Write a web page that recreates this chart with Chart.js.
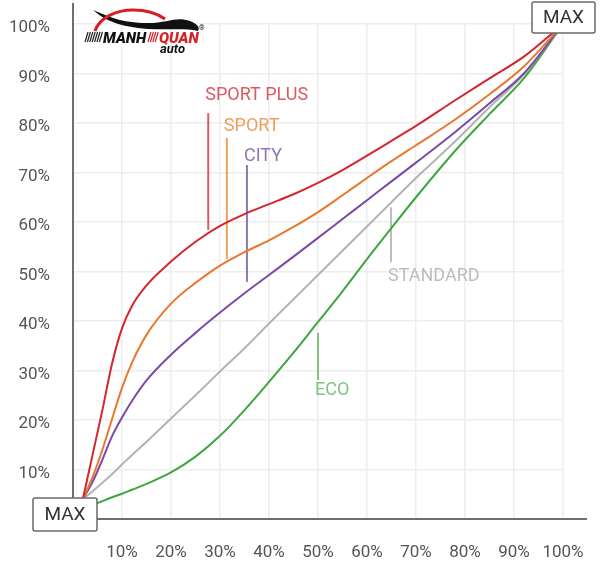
<!DOCTYPE html>
<html>
<head>
<meta charset="utf-8">
<script src="https://cdn.jsdelivr.net/npm/chart.js@4.4.1/dist/chart.umd.min.js"></script>
<style>
	html, body { margin: 0; padding: 0; background: #fff; }
	#wrap { width: 600px; height: 566px; }
</style>
</head>
<body>
<div id="wrap"><canvas id="pedal-chart" width="600" height="566"></canvas></div>
<script>
// pedal position (%), shared by every mode
var pedalX = [2, 4, 6, 8, 10, 12, 15, 20, 25, 30, 35, 40, 45, 50, 55, 60, 65, 70, 78, 85, 92, 100];

// throttle opening (%) for each mode
var sportPlusY = [4, 13, 22, 31.5, 38.5, 43, 47.2, 52, 56, 59.2, 61.6, 63.6, 65.6, 67.9, 70.5, 73.4, 76.4, 79.4, 84.6, 89, 93.4, 100];
var sportY     = [4, 8.5, 14, 20.3, 26.5, 31.5, 37.2, 43.5, 47.7, 51.2, 53.9, 56.3, 59, 62, 65.4, 68.9, 72.3, 75.5, 80.7, 85.8, 91.4, 100];
var cityY      = [4, 7.5, 12, 16.8, 20.5, 23.8, 28, 33.2, 37.6, 41.7, 45.6, 49.3, 53, 56.8, 60.6, 64.4, 68.2, 72, 78.2, 84, 90, 100];
var standardY  = [4, 5.6, 7.3, 9.1, 11, 12.9, 15.6, 20.3, 25, 29.8, 34.5, 39.5, 44.4, 49.3, 54.2, 59.1, 64, 68.9, 76.3, 83.2, 89.8, 100];
var ecoY       = [2, 2.8, 3.6, 4.4, 5.1, 5.9, 7.1, 9.4, 12.6, 16.8, 22, 27.7, 33.6, 39.8, 46, 52.5, 58.8, 65, 74.4, 81.8, 89, 100];

var modeNames = ['SPORT PLUS', 'SPORT', 'CITY', 'STANDARD', 'ECO'];
var axisTicks = [10, 20, 30, 40, 50, 60, 70, 80, 90, 100];

var modeColors = ['#d3262e', '#e9782f', '#7b4aa6', '#b3b3b3', '#3fa63f'];
var labelColors = ['#dc5a60', '#eea15a', '#8e77b6', '#bdbdbd', '#7fc47f'];

// leader line x, top, bottom (data units) and where the name sits
var callouts = [
	{x: 27.6, top: 82, bottom: 58.4, textY: 85.6},
	{x: 31.4, top: 77, bottom: 52.5, textY: 79.2},
	{x: 35.5, top: 71.5, bottom: 47.9, textY: 73.3},
	{x: 64.9, top: 63, bottom: 51.9, textY: 48.9},
	{x: 50.0, top: 37.6, bottom: 28.1, textY: 25.9}
];

function toPoints(ys) {
	return pedalX.map(function(x, i) {
		return {x: x, y: ys[i]};
	});
}

var seriesY = [sportPlusY, sportY, cityY, standardY, ecoY];
var datasets = [];

for (let i = 0; i < modeNames.length; i++) {
	datasets.push({
		label: modeNames[i],
		data: toPoints(seriesY[i]),
		borderColor: modeColors[i],
		backgroundColor: modeColors[i],
		borderWidth: 2,
		pointRadius: 0,
		fill: false,
		cubicInterpolationMode: 'monotone'
	});
}

function drawMaxBox(ctx, cx, cy, left, top, w, h) {
	ctx.save();
	ctx.fillStyle = '#fff';
	ctx.strokeStyle = '#6a6a6a';
	ctx.lineWidth = 1.5;
	ctx.beginPath();
	ctx.roundRect(cx + left, cy + top, w, h, 2);
	ctx.fill();
	ctx.stroke();
	ctx.fillStyle = '#333';
	ctx.font = '19px Roboto';
	ctx.textAlign = 'center';
	ctx.textBaseline = 'middle';
	ctx.fillText('MAX', cx + left + w / 2, cy + top + h / 2 + 1);
	ctx.restore();
}

function drawLogo(ctx) {
	ctx.save();
	// car swoosh
	ctx.fillStyle = '#111';
	ctx.beginPath();
	ctx.moveTo(93, 10);
	ctx.bezierCurveTo(108, 16, 120, 23, 148, 23);
	ctx.bezierCurveTo(168, 23, 176, 16, 190, 21);
	ctx.bezierCurveTo(198, 24, 200, 28, 198, 31);
	ctx.bezierCurveTo(186, 28, 170, 30, 148, 29);
	ctx.bezierCurveTo(120, 27, 104, 20, 93, 10);
	ctx.fill();
	ctx.strokeStyle = '#d61f26';
	ctx.lineWidth = 3;
	ctx.beginPath();
	ctx.moveTo(95, 31);
	ctx.bezierCurveTo(99, 18, 116, 10, 133, 10);
	ctx.bezierCurveTo(148, 10, 158, 14, 165, 19);
	ctx.stroke();

	// stripes
	ctx.lineWidth = 1.2;
	for (let k = 0; k < 7; k++) {
		ctx.strokeStyle = '#222';
		ctx.beginPath();
		ctx.moveTo(85 + k * 2.4, 42);
		ctx.lineTo(88 + k * 2.4, 32);
		ctx.stroke();
	}
	for (let k = 0; k < 4; k++) {
		ctx.strokeStyle = '#d61f26';
		ctx.beginPath();
		ctx.moveTo(148 + k * 2.4, 42);
		ctx.lineTo(151 + k * 2.4, 32);
		ctx.stroke();
	}

	ctx.textBaseline = 'alphabetic';
	ctx.font = 'italic 900 15px Roboto';
	ctx.fillStyle = '#111';
	ctx.fillText('MANH', 103, 43);
	ctx.fillStyle = '#d61f26';
	ctx.fillText('QUAN', 159, 43);
	ctx.fillStyle = '#111';
	ctx.font = 'italic 700 13px Roboto';
	ctx.fillText('auto', 160, 53);
	ctx.font = '7px Roboto';
	ctx.fillText('®', 199, 30);
	ctx.restore();
}

var decorPlugin = {
	id: 'decor',
	beforeDatasetsDraw: function(chart) {
		var ctx = chart.ctx,
			xs = chart.scales.x,
			ys = chart.scales.y,
			x0 = xs.getPixelForValue(0),
			y0 = ys.getPixelForValue(0);

		// axis lines run a little past the plot area
		ctx.save();
		ctx.strokeStyle = '#6f6f6f';
		ctx.lineWidth = 2;
		ctx.beginPath();
		ctx.moveTo(x0, 3);
		ctx.lineTo(x0, y0);
		ctx.lineTo(xs.getPixelForValue(100) + 24, y0);
		ctx.stroke();
		ctx.restore();

		// callouts
		ctx.save();
		ctx.lineWidth = 2;
		ctx.font = '18px Roboto';
		ctx.textAlign = 'left';
		ctx.textBaseline = 'middle';
		for (let i = 0; i < callouts.length; i++) {
			let c = callouts[i];
			let px = xs.getPixelForValue(c.x);
			ctx.strokeStyle = labelColors[i];
			ctx.beginPath();
			ctx.moveTo(px, ys.getPixelForValue(c.top));
			ctx.lineTo(px, ys.getPixelForValue(c.bottom));
			ctx.stroke();
			ctx.fillStyle = labelColors[i];
			ctx.fillText(modeNames[i], px - 3, ys.getPixelForValue(c.textY));
		}
		ctx.restore();
	},
	afterDraw: function(chart) {
		var ctx = chart.ctx,
			xs = chart.scales.x,
			ys = chart.scales.y;

		drawMaxBox(ctx, xs.getPixelForValue(0), ys.getPixelForValue(0), -40, -21, 64, 33);
		drawMaxBox(ctx, xs.getPixelForValue(100), ys.getPixelForValue(100), -31, -22, 63, 31);
		drawLogo(ctx);
	}
};

function keepAxisTicks(scale) {
	scale.ticks = axisTicks.map(function(v) {
		return {value: v};
	});
}

var pedalChart = new Chart(document.getElementById('pedal-chart'), {
	type: 'line',
	data: {
		datasets: datasets
	},
	options: {
		responsive: false,
		animation: false,
		layout: {
			padding: {left: 0, right: 37, top: 24, bottom: 0}
		},
		plugins: {
			legend: {display: false},
			tooltip: {enabled: false}
		},
		scales: {
			x: {
				type: 'linear',
				min: 0,
				max: 100,
				afterBuildTicks: keepAxisTicks,
				afterFit: function(scale) {
					scale.height = 47;
					scale.paddingLeft = 0;
					scale.paddingRight = 0;
				},
				border: {display: false},
				grid: {color: '#ededed', lineWidth: 1.5, drawTicks: false},
				ticks: {
					padding: 24,
					maxRotation: 0,
					color: '#555',
					font: {family: 'Roboto', size: 17},
					callback: function(v) {
						return v + '%';
					}
				}
			},
			y: {
				type: 'linear',
				min: 0,
				max: 100,
				afterBuildTicks: keepAxisTicks,
				afterFit: function(scale) {
					scale.width = 73;
					scale.paddingTop = 0;
					scale.paddingBottom = 0;
				},
				border: {display: false},
				grid: {color: '#ededed', lineWidth: 1.5, drawTicks: false},
				ticks: {
					padding: 23,
					labelOffset: 4,
					color: '#555',
					font: {family: 'Roboto', size: 17},
					callback: function(v) {
						return v + '%';
					}
				}
			}
		}
	},
	plugins: [decorPlugin]
});
</script>
</body>
</html>
